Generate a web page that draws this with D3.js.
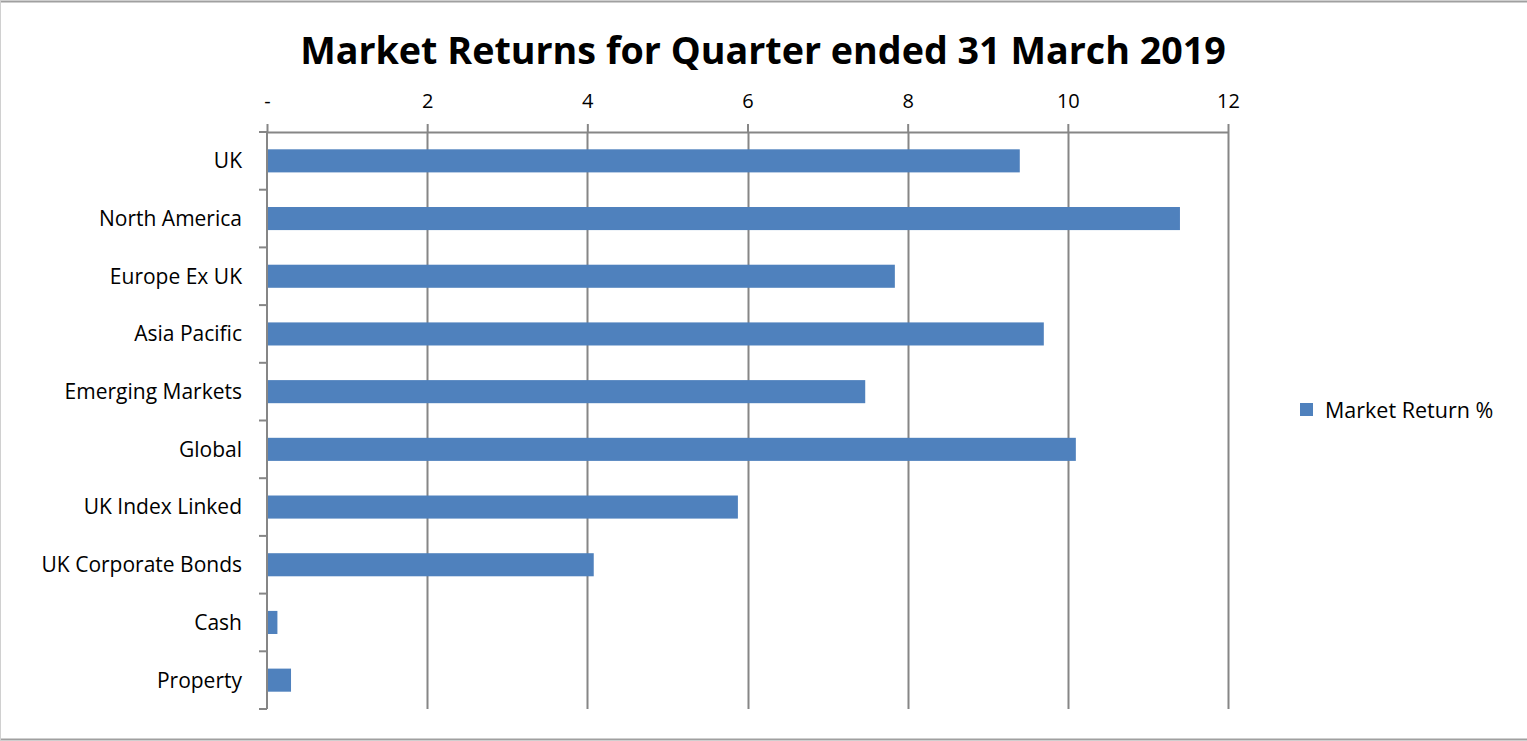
<!DOCTYPE html>
<html><head><meta charset="utf-8">
<script src="https://cdn.jsdelivr.net/npm/d3@7"></script>
<style>html,body{margin:0;padding:0;background:#fff;overflow:hidden}</style>
</head><body>
<svg id="c" width="1527" height="741"></svg>
<script>
const categories = ["UK","North America","Europe Ex UK","Asia Pacific","Emerging Markets","Global","UK Index Linked","UK Corporate Bonds","Cash","Property"];
const values = [9.40, 11.40, 7.84, 9.70, 7.47, 10.10, 5.88, 4.08, 0.13, 0.30];
const tickValues = [0, 2, 4, 6, 8, 10, 12];
const tickLabels = ["-", "2", "4", "6", "8", "10", "12"];
const seriesName = "Market Return %";
const titleText = "Market Returns for Quarter ended 31 March 2019";

(function () {
const svg = d3.select("#c");
const font = "Open Sans, Liberation Sans, sans-serif";
const pLeft = 267, pRight = 1228, pTop = 132, pBottom = 709;
const x = d3.scaleLinear().domain([0, 12]).range([pLeft, pRight]);
const y = d3.scaleBand().domain(categories).range([pTop, pBottom]).paddingInner(0.6).paddingOuter(0.3);
const yb = d3.scaleBand().domain(categories).range([pTop, pBottom]);
const grid = "#868686", barColor = "#4f81bd";

// frame
svg.append("line").attr("x1",0).attr("x2",1527).attr("y1",1.5).attr("y2",1.5).attr("stroke","#a0a0a0").attr("stroke-width",2);
svg.append("line").attr("x1",0).attr("x2",1527).attr("y1",739.5).attr("y2",739.5).attr("stroke","#a0a0a0").attr("stroke-width",2);
svg.append("line").attr("x1",0.5).attr("x2",0.5).attr("y1",0).attr("y2",741).attr("stroke","#d0d0d0").attr("stroke-width",1);

// gridlines
svg.append("g").selectAll("line").data(tickValues.slice(1)).join("line")
  .attr("x1", d => Math.round(x(d)) + 0.5).attr("x2", d => Math.round(x(d)) + 0.5)
  .attr("y1", pTop).attr("y2", pBottom).attr("stroke", grid).attr("stroke-width", 2);

// top axis
const xAxis = d3.axisTop(x).tickValues(tickValues).tickFormat((d,i) => tickLabels[i]).tickSize(8).tickSizeOuter(0).tickPadding(16);
const gx = svg.append("g").attr("transform", `translate(0,${pTop})`).call(xAxis);
gx.select(".domain").attr("stroke", grid).attr("stroke-width", 2);
gx.selectAll(".tick line").attr("stroke", grid).attr("stroke-width", 2);
gx.selectAll(".tick text").attr("font-family", font).attr("font-size", 20).attr("fill", "#000");

// bars
svg.append("g").selectAll("rect").data(categories).join("rect")
  .attr("x", x(0)).attr("y", d => y(d))
  .attr("width", (d,i) => x(values[i]) - x(0)).attr("height", y.bandwidth())
  .attr("fill", barColor);

// left axis
svg.append("line").attr("x1", pLeft).attr("x2", pLeft).attr("y1", pTop).attr("y2", pBottom).attr("stroke", grid).attr("stroke-width", 2);
const bounds = categories.map(c => yb(c)).concat([pBottom]);
svg.append("g").selectAll("line").data(bounds).join("line")
  .attr("x1", pLeft - 8).attr("x2", pLeft).attr("y1", d => d).attr("y2", d => d)
  .attr("stroke", grid).attr("stroke-width", 2);
svg.append("g").selectAll("text").data(categories).join("text")
  .attr("x", 242).attr("y", d => yb(d) + yb.bandwidth()/2).attr("dy", "0.35em")
  .attr("text-anchor", "end").attr("font-family", font).attr("font-size", 21).attr("fill", "#000")
  .text(d => d);

// title
const t = svg.append("text").attr("x", 763).attr("y", 64).attr("text-anchor", "middle")
  .attr("font-family", font).attr("font-weight", "bold").attr("font-size", 40).attr("fill", "#000").text(titleText);
const w = t.node().getComputedTextLength();
t.attr("font-size", 40 * 926 / w);

// legend
svg.append("rect").attr("x", 1300).attr("y", 403).attr("width", 13).attr("height", 13).attr("fill", barColor);
svg.append("text").attr("x", 1325).attr("y", 410).attr("dy", "0.35em").attr("font-family", font).attr("font-size", 21.5).attr("fill", "#000").text(seriesName);
})();
</script>
</body></html>
